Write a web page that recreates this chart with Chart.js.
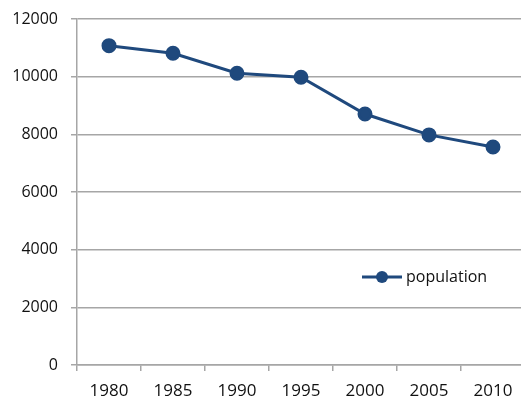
<!DOCTYPE html>
<html lang="en">
<head>
  <meta charset="UTF-8" />
  <title>Population</title>
  <script src="https://cdn.jsdelivr.net/npm/chart.js"></script>
  <style>
    body {
      margin: 0;
      background: white;
      overflow: hidden;
    }
    #wrap {
      width: 534px;
      height: 400px;
    }
  </style>
</head>
<body>
  <!-- the plot area runs a few px past the right edge, as in the original -->
  <div id="wrap">
    <canvas id="myChart" width="534" height="400"></canvas>
  </div>

  <script>
    const years = ["1980", "1985", "1990", "1995", "2000", "2005", "2010"];
    const population = [11075, 10810, 10120, 9980, 8705, 7980, 7560];
    const yTicks = [0, 2000, 4000, 6000, 8000, 10000, 12000];

    const lineColor = "#1f497d";
    const gridColor = "#a6a6a6";
    const textColor = "#111";

    // legend drawn inside the plot area, like the original
    const innerLegend = {
      id: "innerLegend",
      afterDraw(chart) {
        const ctx = chart.ctx;
        const area = chart.chartArea;
        const ds = chart.data.datasets[0];
        const x = area.right - 163;
        const y = area.top + 258;
        ctx.save();
        ctx.strokeStyle = ds.borderColor;
        ctx.lineWidth = 3;
        ctx.beginPath();
        ctx.moveTo(x, y);
        ctx.lineTo(x + 40, y);
        ctx.stroke();
        ctx.fillStyle = ds.pointBackgroundColor;
        ctx.beginPath();
        ctx.arc(x + 20, y, 6, 0, Math.PI * 2);
        ctx.fill();
        ctx.fillStyle = textColor;
        ctx.font = "16px 'Open Sans'";
        ctx.textBaseline = "middle";
        ctx.fillText(ds.label, x + 44, y);
        ctx.restore();
      }
    };

    const ctx = document.getElementById("myChart").getContext("2d");
    new Chart(ctx, {
      type: "line",
      data: {
        labels: years,
        datasets: [{
          label: "population",
          data: population,
          borderColor: lineColor,
          backgroundColor: lineColor,
          pointBackgroundColor: lineColor,
          pointBorderColor: lineColor,
          borderWidth: 3,
          pointRadius: 6,
          tension: 0
        }]
      },
      options: {
        responsive: false,
        animation: false,
        layout: { padding: { top: 19, right: 1, left: 0, bottom: 0 } },
        plugins: {
          legend: { display: false },
          tooltip: { enabled: false }
        },
        scales: {
          x: {
            offset: true,
            grid: {
              offset: true,
              drawOnChartArea: false,
              drawTicks: true,
              tickLength: 6,
              color: gridColor,
              lineWidth: 1.5
            },
            border: { color: gridColor, width: 1.5 },
            ticks: {
              color: textColor,
              font: { family: "'Open Sans'", size: 17 },
              padding: 10,
              maxRotation: 0
            },
            afterFit(scale) {
              scale.height = 35;
              scale.paddingLeft = 0;
              scale.paddingRight = 0;
            }
          },
          y: {
            min: 0,
            max: 12000,
            afterBuildTicks(scale) {
              scale.ticks = yTicks.map(v => ({ value: v }));
            },
            grid: {
              color: gridColor,
              lineWidth: 1.5,
              drawTicks: true,
              tickLength: 6
            },
            border: { color: gridColor, width: 1.5 },
            ticks: {
              color: textColor,
              font: { family: "'Open Sans'", size: 16 },
              padding: 13,
              callback: v => String(v)
            },
            afterFit(scale) {
              scale.width = 77;
              scale.paddingTop = 0;
              scale.paddingBottom = 0;
            }
          }
        }
      },
      plugins: [innerLegend]
    });
  </script>
</body>
</html>
